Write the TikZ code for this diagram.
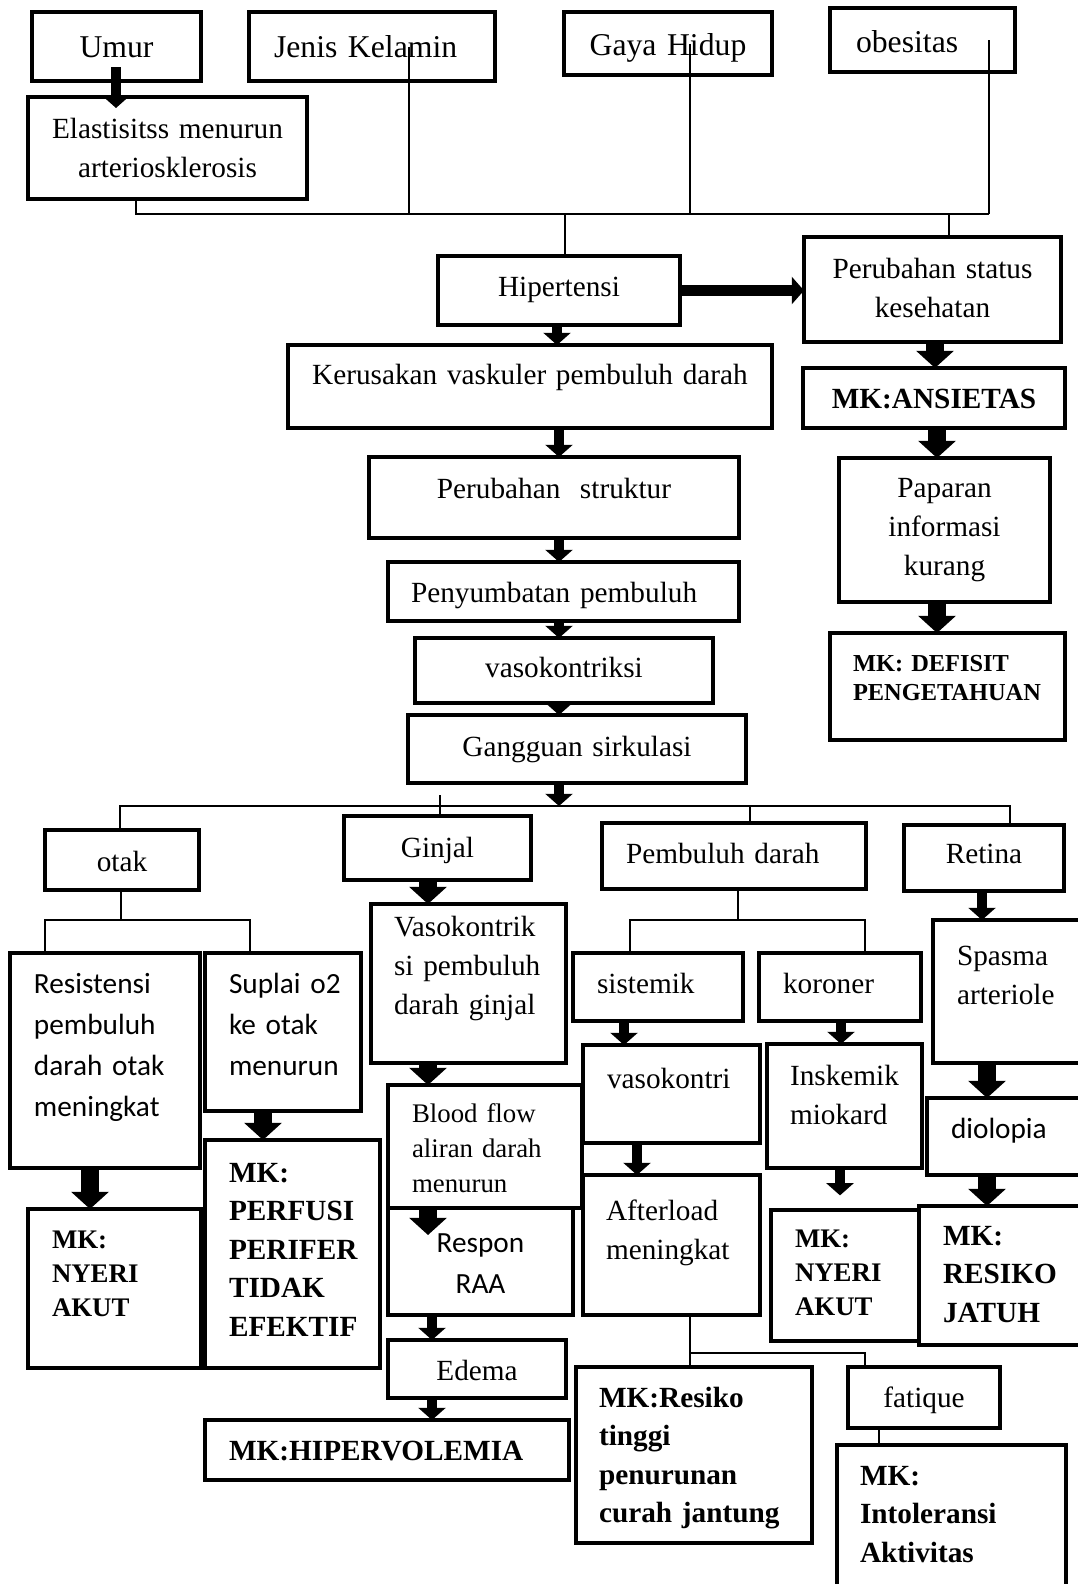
\documentclass[tikz,border=0pt]{standalone}
\usepackage{fontspec}
\setmainfont{Liberation Serif}
\setsansfont{Carlito}
\usetikzlibrary{arrows.meta}
\newlength{\px}
\setlength{\px}{0.41pt}

\tikzset{
  kotak/.style={draw, line width=1.8pt, rectangle, anchor=north west, inner ysep=0pt, outer sep=0pt, font=\fontsize{12}{16}\selectfont},
  ukuran/.style n args={4}{text width=#1\px, inner xsep=#2\px, text height=#3\px, text depth=#4\px},
  besar/.style={font=\fontsize{13}{17}\selectfont},
  kecil/.style={font=\fontsize{11}{14.4}\selectfont},
  sans/.style={font=\sffamily\fontsize{12}{16.9}\selectfont},
  tebal/.style={font=\bfseries\fontsize{12}{15.8}\selectfont},
  tebalkecil/.style={font=\bfseries\fontsize{11}{14.1}\selectfont},
  garis/.style={line width=0.6pt},
  panah/.style={line width=4.5pt, -{Triangle[width=11pt,length=5pt]}},
  panahbesar/.style={line width=7pt, -{Triangle[width=15pt,length=7pt]}},
}

\begin{document}
\begin{tikzpicture}[x=0.41pt,y=-0.41pt]
\useasboundingbox (0,0) rectangle (1078,1584);
\clip (0,0) rectangle (1078,1584);

% faktor risiko
\node[kotak, besar, ukuran={159}{5}{45}{24}, align=center] (umur) at (32,12) {Umur};
\node[kotak, besar, ukuran={196}{25}{45}{24}, align=left] (jenis) at (249,12) {Jenis~Kelamin};
\node[kotak, besar, ukuran={198}{5}{43}{20}, align=center] (gaya) at (564,12) {Gaya Hidup};
\node[kotak, besar, ukuran={133}{26}{44}{20}, align=left] (obesitas) at (830,8) {obesitas};
\node[kotak, ukuran={269}{5}{41}{61}, align=center] (elast) at (28,97) {Elastisitss menurun\\arteriosklerosis};

% jalur utama
\node[kotak, ukuran={232}{5}{40}{29}, align=center] (hiper) at (438,256) {Hipertensi};
\node[kotak, ukuran={247}{5}{41}{64}, align=center] (status) at (804,237) {Perubahan status\\kesehatan};
\node[kotak, ukuran={474}{5}{39}{44}, align=center] (kerusakan) at (288,345) {Kerusakan vaskuler pembuluh darah};
\node[kotak, ukuran={360}{5}{41}{40}, align=center] (struktur) at (369,457) {Perubahan\ \ struktur};
\node[kotak, ukuran={305}{23}{40}{19}, align=left] (sumbat) at (388,562) {Penyumbatan~pembuluh};
\node[kotak, ukuran={288}{5}{39}{26}, align=center] (vaso) at (415,638) {vasokontriksi};
\node[kotak, ukuran={328}{5}{41}{27}, align=center] (gangguan) at (408,715) {Gangguan sirkulasi};

% kolom kanan
\node[kotak, tebal, ukuran={252}{5}{40}{20}, align=center] (ansietas) at (803,368) {MK:ANSIETAS};
\node[kotak, ukuran={201}{5}{39}{105}, align=center] (paparan) at (839,458) {Paparan\\informasi\\kurang};
\node[kotak, font=\bfseries\fontsize{10}{12.2}\selectfont, ukuran={189}{23}{38}{69}, align=left] (defisit) at (830,633) {MK:~DEFISIT\\PENGETAHUAN};

% organ
\node[kotak, ukuran={144}{5}{41}{19}, align=center] (otak) at (45,830) {otak};
\node[kotak, ukuran={177}{5}{41}{23}, align=center] (ginjal) at (344,816) {Ginjal};
\node[kotak, ukuran={216}{24}{40}{26}, align=left] (pembuluh) at (602,823) {Pembuluh~darah};
\node[kotak, ukuran={150}{5}{38}{28}, align=center] (retina) at (904,825) {Retina};

% otak
\node[kotak, sans, ukuran={142}{24}{40}{175}, align=left] (resist) at (10,953) {Resistensi\\pembuluh\\darah~otak\\meningkat};
\node[kotak, sans, ukuran={108}{24}{40}{118}, align=left] (suplai) at (205,953) {Suplai~o2\\ke~otak\\menurun};
\node[kotak, tebalkecil, ukuran={125}{24}{39}{120}, align=left] (nyeri1) at (28,1209) {MK:\\NYERI\\AKUT};
\node[kotak, tebal, ukuran={127}{24}{42}{186}, align=left] (perfusi) at (205,1140) {MK:\\PERFUSI\\PERIFER\\TIDAK\\EFEKTIF};

% ginjal
\node[kotak, ukuran={149}{23}{32}{127}, align=left] (vasogin) at (371,904) {Vasokontrik\\si~pembuluh\\darah~ginjal};
\node[kotak, kecil, ukuran={146}{24}{37}{86}, align=left] (blood) at (388,1085) {Blood~flow\\aliran~darah\\menurun};
\node[kotak, sans, ukuran={175}{5}{44}{63}, align=center] (respon) at (388,1208) {Respon\\RAA};
\node[kotak, ukuran={168}{5}{40}{18}, align=center] (edema) at (388,1340) {Edema};
\node[kotak, tebal, ukuran={316}{24}{40}{20}, align=left] (hiperv) at (205,1420) {MK:HIPERVOLEMIA};

% pembuluh darah
\node[kotak, ukuran={122}{24}{40}{28}, align=left] (sistemik) at (573,953) {sistemik};
\node[kotak, ukuran={114}{24}{40}{28}, align=left] (koroner) at (759,953) {koroner};
\node[kotak, ukuran={129}{24}{43}{55}, align=left] (vasokontri) at (583,1045) {vasokontri};
\node[kotak, ukuran={109}{23}{41}{83}, align=left] (inskemik) at (767,1044) {Inskemik\\miokard};
\node[kotak, ukuran={131}{23}{45}{95}, align=left] (afterload) at (583,1175) {Afterload\\meningkat};
\node[kotak, tebalkecil, ukuran={100}{24}{37}{94}, align=left] (nyeri2) at (771,1210) {MK:\\NYERI\\AKUT};
\node[kotak, tebal, ukuran={190}{23}{40}{136}, align=left] (resikot) at (576,1367) {MK:Resiko\\tinggi\\penurunan\\curah~jantung};
\node[kotak, ukuran={142}{5}{40}{21}, align=center] (fatique) at (848,1367) {fatique};
\node[kotak, tebal, ukuran={183}{23}{40}{155}, align=left] (intol) at (837,1445) {MK:\\Intoleransi\\Aktivitas};

% retina
\node[kotak, ukuran={129}{24}{45}{98}, align=left] (spasma) at (933,920) {Spasma\\arteriole};
\node[kotak, sans, ukuran={135}{24}{40}{37}, align=left] (diolopia) at (927,1098) {diolopia};
\node[kotak, tebal, ukuran={143}{24}{39}{100}, align=left] (resikoj) at (919,1206) {MK:\\RESIKO\\JATUH};

% garis faktor risiko
\coordinate (gabung) at (565,214);
\draw[panah, shorten <=-14\px, shorten >=-11\px] (umur.south -| 116,0) -- (elast.north -| 116,0);
\draw[garis] (elast.south -| 136,0) |- (gabung -| 989,0);
\draw[garis] (jenis.center -| 409,0) -- (gabung -| 409,0);
\draw[garis] (gaya.center -| 690,0) -- (gabung -| 690,0);
\draw[garis] (obesitas.center -| 989,0) -- (gabung -| 989,0);
\draw[garis] (gabung) -- (hiper.north -| gabung);
\draw[garis] (gabung -| 949,0) -- (status.north -| 949,0);
\draw[panah] (hiper.east) -- (hiper.east -| status.west);

% panah jalur utama
\draw[panah] (hiper.south -| 557,0) -- (kerusakan.north -| 557,0);
\draw[panah] (kerusakan.south -| 559,0) -- (struktur.north -| 559,0);
\draw[panah] (struktur.south -| 559,0) -- (sumbat.north -| 559,0);
\draw[panah] (sumbat.south -| 559,0) -- (vaso.north -| 559,0);
\draw[panah] (vaso.south -| 559,0) -- (gangguan.north -| 559,0);
\coordinate (cabang) at (559,806);
\draw[panah] (gangguan.south -| cabang) -- (cabang);

% panah kolom kanan
\draw[panahbesar] (status.south -| 935,0) -- (ansietas.north -| 935,0);
\draw[panahbesar] (ansietas.south -| 937,0) -- (paparan.north -| 937,0);
\draw[panahbesar] (paparan.south -| 937,0) -- (defisit.north -| 937,0);

% cabang organ
\draw[garis] (otak.north -| 120,0) |- (cabang -| 1010,0) -- (retina.north -| 1010,0);
\draw[garis] (cabang -| 750,0) -- (pembuluh.north -| 750,0);
\draw[garis] (ginjal.north -| 440,0) -- ++(0,-21);

% otak
\draw[garis] (otak.south -| 121,0) -- (121,920);
\draw[garis] (resist.north -| 45,0) -- (45,920) -- (250,920) -- (suplai.north -| 250,0);
\draw[panahbesar] (resist.south -| 90,0) -- (nyeri1.north -| 90,0);
\draw[panahbesar] (suplai.south -| 263,0) -- (perfusi.north -| 263,0);

% ginjal
\draw[panahbesar] (ginjal.south -| 428,0) -- (vasogin.north -| 428,0);
\draw[panahbesar] (vasogin.south -| 428,0) -- (blood.north -| 428,0);
\draw[panahbesar] (blood.south -| 428,0) -- ++(0,27);
\draw[panah] (respon.south -| 432,0) -- (edema.north -| 432,0);
\draw[panah] (edema.south -| 432,0) -- (hiperv.north -| 432,0);

% pembuluh darah
\draw[garis] (pembuluh.south -| 738,0) -- (738,920);
\draw[garis] (sistemik.north -| 630,0) -- (630,920) -- (865,920) -- (koroner.north -| 865,0);
\draw[panah] (sistemik.south -| 624,0) -- (vasokontri.north -| 624,0);
\draw[panah] (koroner.south -| 841,0) -- (inskemik.north -| 841,0);
\draw[panah] (vasokontri.south -| 637,0) -- (afterload.north -| 637,0);
\draw[panah, shorten >=6pt] (inskemik.south -| 840,0) -- (nyeri2.north -| 840,0);
\coordinate (simpang) at (690,1353);
\draw[garis] (afterload.south -| 690,0) -- (resikot.north -| 690,0);
\draw[garis] (simpang) -| (fatique.north -| 865,0);
\draw[garis] (fatique.south -| 879,0) -- (intol.north -| 879,0);

% retina
\draw[panah] (retina.south -| 982,0) -- (spasma.north -| 982,0);
\draw[panahbesar] (spasma.south -| 987,0) -- (diolopia.north -| 987,0);
\draw[panahbesar] (diolopia.south -| 987,0) -- (resikoj.north -| 987,0);
\end{tikzpicture}
\end{document}
